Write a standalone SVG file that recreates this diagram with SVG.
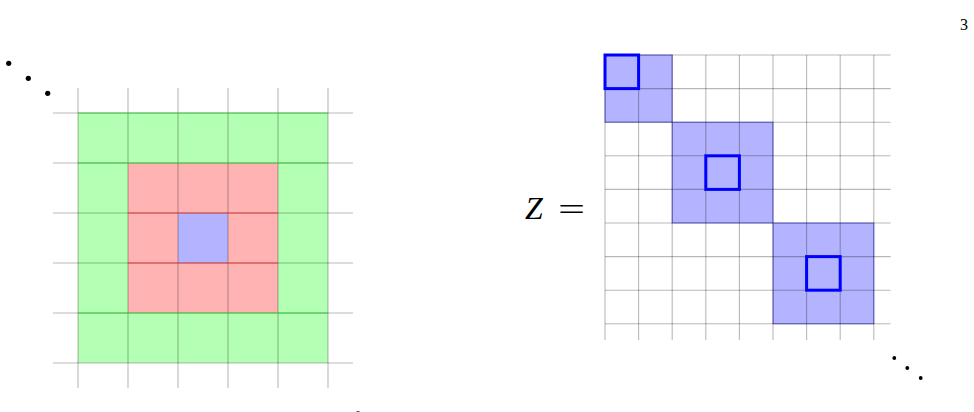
<svg xmlns="http://www.w3.org/2000/svg" width="974" height="412" viewBox="0 0 974 412">
<style>
.grid{stroke:#000;stroke-opacity:0.28;stroke-width:1.1;fill:none}
.gfill{fill:#b3ffb3}
.rfill{fill:#ffb3b3}
.bfill{fill:#b3b3ff}
.bblock{fill:#b3b3ff;stroke:#3333cc;stroke-opacity:0.55;stroke-width:1.2}
.gseam{stroke:#44cc44;stroke-width:1.2}
.rseam{stroke:#e04444;stroke-width:1.2}
.bold{fill:none;stroke:#0000ff;stroke-width:3}
.dot{fill:#000}
</style>
<g id="left-matrix">
<rect class="gfill" x="78" y="113" width="250" height="250"/>
<rect class="rfill" x="128" y="163" width="150" height="150"/>
<rect class="bfill" x="178" y="213" width="50" height="50"/>
<g class="grid">
<line x1="78" y1="88" x2="78" y2="388"/>
<line x1="128" y1="88" x2="128" y2="388"/>
<line x1="178" y1="88" x2="178" y2="388"/>
<line x1="228" y1="88" x2="228" y2="388"/>
<line x1="278" y1="88" x2="278" y2="388"/>
<line x1="328" y1="88" x2="328" y2="388"/>
<line x1="53" y1="113" x2="353" y2="113"/>
<line x1="53" y1="163" x2="353" y2="163"/>
<line x1="53" y1="213" x2="353" y2="213"/>
<line x1="53" y1="263" x2="353" y2="263"/>
<line x1="53" y1="313" x2="353" y2="313"/>
<line x1="53" y1="363" x2="353" y2="363"/>
</g>
<g class="gseam">
<line x1="78" y1="113" x2="328" y2="113"/>
<line x1="78" y1="163" x2="328" y2="163"/>
<line x1="78" y1="313" x2="328" y2="313"/>
</g>
<g class="rseam">
<line x1="128" y1="213" x2="278" y2="213"/>
<line x1="128" y1="263" x2="278" y2="263"/>
</g>
</g>
<g id="left-dots">
<circle class="dot" cx="8.7" cy="63.3" r="2.6"/>
<circle class="dot" cx="28.3" cy="78.3" r="2.6"/>
<circle class="dot" cx="47.7" cy="93.3" r="2.6"/>
<circle class="dot" cx="358" cy="413.8" r="2.6"/>
</g>
<g id="Z-label">
<text x="525" y="218.5" font-family="Liberation Serif, DejaVu Serif, serif" font-size="32" font-style="italic" fill="#000">Z</text>
<text transform="translate(558,220) scale(1.5,1)" x="0" y="0" font-family="Liberation Serif, DejaVu Serif, serif" font-size="32" fill="#000">=</text>
</g>
<g id="right-matrix">
<rect class="bblock" x="605" y="55" width="67.2" height="67.2"/>
<rect class="bblock" x="672.2" y="122.2" width="100.8" height="100.8"/>
<rect class="bblock" x="773" y="223" width="100.8" height="100.8"/>
<g class="grid">
<line x1="605" y1="55" x2="605" y2="340"/>
<line x1="638.6" y1="55" x2="638.6" y2="340"/>
<line x1="672.2" y1="55" x2="672.2" y2="340"/>
<line x1="705.8" y1="55" x2="705.8" y2="340"/>
<line x1="739.4" y1="55" x2="739.4" y2="340"/>
<line x1="773" y1="55" x2="773" y2="340"/>
<line x1="806.6" y1="55" x2="806.6" y2="340"/>
<line x1="840.2" y1="55" x2="840.2" y2="340"/>
<line x1="873.8" y1="55" x2="873.8" y2="340"/>
<line x1="605" y1="55" x2="890.6" y2="55"/>
<line x1="605" y1="88.6" x2="890.6" y2="88.6"/>
<line x1="605" y1="122.2" x2="890.6" y2="122.2"/>
<line x1="605" y1="155.8" x2="890.6" y2="155.8"/>
<line x1="605" y1="189.4" x2="890.6" y2="189.4"/>
<line x1="605" y1="223" x2="890.6" y2="223"/>
<line x1="605" y1="256.6" x2="890.6" y2="256.6"/>
<line x1="605" y1="290.2" x2="890.6" y2="290.2"/>
<line x1="605" y1="323.8" x2="890.6" y2="323.8"/>
</g>
<rect class="bold" x="605" y="55" width="33.6" height="33.6"/>
<rect class="bold" x="705.8" y="155.8" width="33.6" height="33.6"/>
<rect class="bold" x="806.6" y="256.6" width="33.6" height="33.6"/>
</g>
<g id="right-dots">
<circle class="dot" cx="894.3" cy="358" r="1.9"/>
<circle class="dot" cx="907.3" cy="368" r="1.9"/>
<circle class="dot" cx="920.7" cy="378" r="1.9"/>
</g>
<g id="page-number">
<text x="960" y="30" font-family="Liberation Serif, DejaVu Serif, serif" font-size="16" fill="#000">3</text>
</g>
</svg>
